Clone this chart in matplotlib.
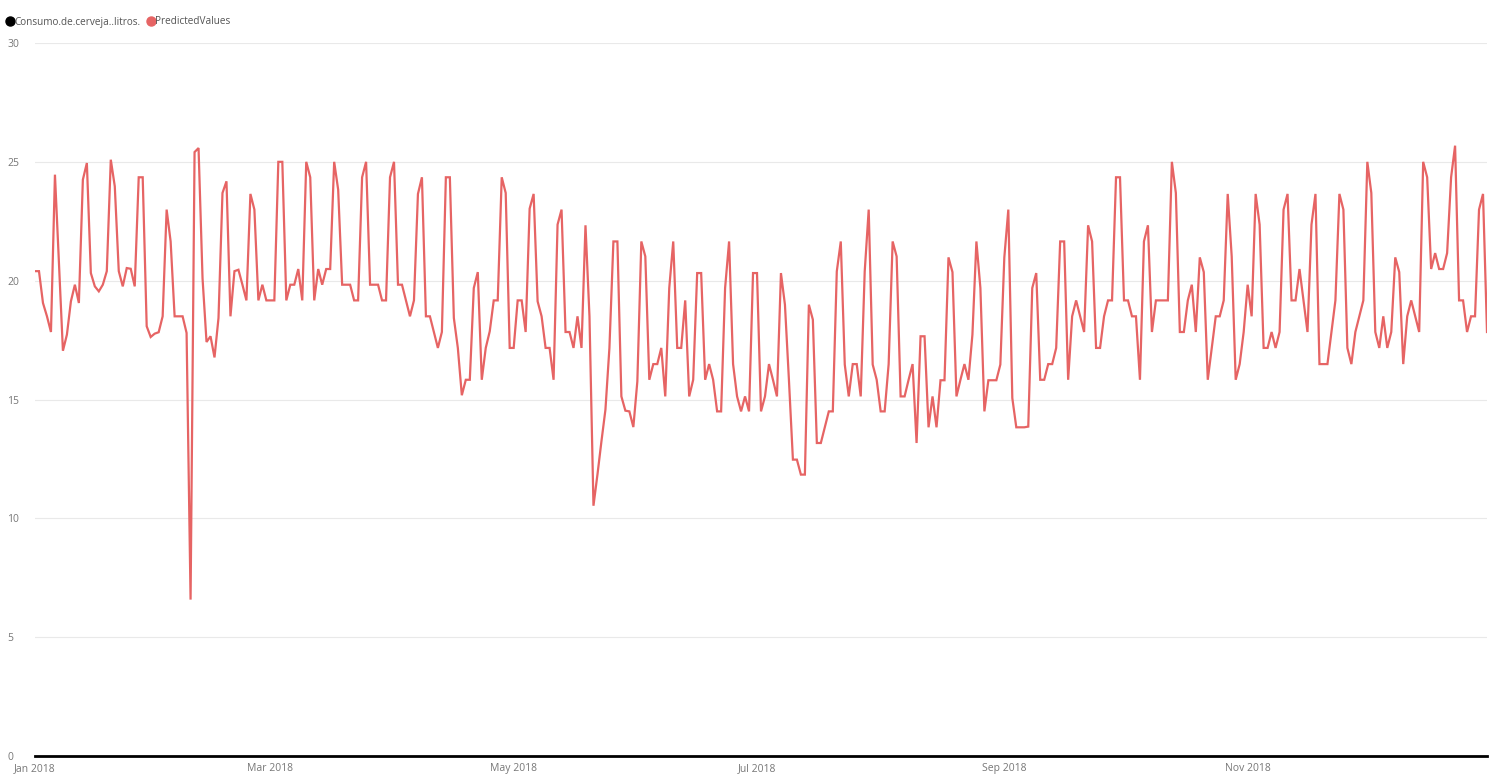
import matplotlib
matplotlib.use("Agg")
import matplotlib.pyplot as plt
import matplotlib.dates as mdates
from matplotlib.lines import Line2D
import pandas as pd

# daily predicted beer consumption, 2018, read month by month
jan = [20.4, 20.4, 19.06, 18.5, 17.84, 24.46, 20.8, 17.05, 17.73, 19.13, 19.83, 19.06, 24.25, 24.95, 20.32, 19.76,
       19.55, 19.83, 20.4, 25.09, 23.97, 20.4, 19.76, 20.53, 20.5, 19.76, 24.35, 24.35, 18.08, 17.63, 17.77]
feb = [17.83, 18.5, 22.99, 21.65, 18.5, 18.5, 18.5, 17.8, 6.58, 25.41, 25.58, 20.1, 17.42, 17.66, 16.77, 18.43,
       23.69, 24.18, 18.5, 20.4, 20.46, 19.83, 19.17, 23.65, 22.99, 19.17, 19.83, 19.17]
mar = [19.17, 19.17, 25.0, 25.0, 19.17, 19.83, 19.83, 20.49, 19.17, 25.0, 24.35, 19.17, 20.49, 19.83, 20.49, 20.49,
       25.0, 23.83, 19.83, 19.83, 19.83, 19.17, 19.17, 24.35, 25.0, 19.83, 19.83, 19.83, 19.17, 19.17, 24.35]
apr = [25.0, 19.83, 19.83, 19.17, 18.5, 19.17, 23.65, 24.35, 18.5, 18.5, 17.84, 17.17, 17.84, 24.35, 24.35, 18.43,
       17.17, 15.18, 15.83, 15.83, 19.69, 20.36, 15.83, 17.17, 17.87, 19.17, 19.17, 24.35, 23.69, 17.17]
may = [17.17, 19.17, 19.17, 17.84, 23.03, 23.65, 19.13, 18.5, 17.17, 17.17, 15.83, 22.36, 22.99, 17.84, 17.84, 17.17,
       18.5, 17.17, 22.33, 18.5, 10.53, 11.84, 13.24, 14.57, 17.17, 21.65, 21.65, 15.13, 14.53, 14.5, 13.84]
jun = [15.76, 21.65, 21.02, 15.83, 16.49, 16.49, 17.17, 15.13, 19.69, 21.65, 17.17, 17.17, 19.17, 15.13, 15.83, 20.32,
       20.32, 15.83, 16.49, 15.83, 14.5, 14.5, 19.69, 21.65, 16.49, 15.13, 14.5, 15.13, 14.5, 20.32]
jul = [20.32, 14.5, 15.13, 16.49, 15.83, 15.13, 20.32, 18.99, 15.83, 12.47, 12.47, 11.84, 11.84, 18.99, 18.36, 13.17,
       13.17, 13.84, 14.5, 14.5, 20.39, 21.65, 16.47, 15.13, 16.49, 16.49, 15.13, 20.39, 22.99, 16.47, 15.83]
aug = [14.5, 14.5, 16.49, 21.65, 21.02, 15.13, 15.13, 15.83, 16.49, 13.17, 17.66, 17.66, 13.83, 15.13, 13.83, 15.81,
       15.81, 20.98, 20.36, 15.13, 15.83, 16.49, 15.83, 17.73, 21.65, 19.69, 14.5, 15.81, 15.81, 15.81, 16.47]
sep = [20.98, 22.99, 15.06, 13.83, 13.83, 13.83, 13.86, 19.69, 20.32, 15.83, 15.83, 16.49, 16.49, 17.17, 21.65, 21.65,
       15.83, 18.5, 19.17, 18.5, 17.84, 22.33, 21.65, 17.17, 17.17, 18.5, 19.17, 19.17, 24.35, 24.35]
oct_ = [19.17, 19.17, 18.5, 18.5, 15.83, 21.65, 22.33, 17.84, 19.17, 19.17, 19.17, 19.17, 25.0, 23.69, 17.84, 17.84,
        19.17, 19.83, 17.84, 20.98, 20.36, 15.83, 17.17, 18.5, 18.5, 19.17, 23.65, 21.02, 15.83, 16.49, 17.84]
nov = [19.83, 18.5, 23.65, 22.36, 17.17, 17.17, 17.84, 17.17, 17.84, 22.99, 23.65, 19.17, 19.17, 20.49, 19.17, 17.84,
       22.36, 23.65, 16.49, 16.49, 16.49, 17.84, 19.17, 23.65, 22.99, 17.17, 16.49, 17.84, 18.5, 19.17]
dec = [25.0, 23.69, 17.84, 17.17, 18.5, 17.17, 17.84, 20.98, 20.36, 16.49, 18.5, 19.17, 18.5, 17.84, 25.0, 24.35,
       20.49, 21.16, 20.49, 20.49, 21.16, 24.35, 25.68, 19.17, 19.17, 17.84, 18.5, 18.5, 22.99, 23.65, 17.84]

predicted = jan + feb + mar + apr + may + jun + jul + aug + sep + oct_ + nov + dec
dates = pd.date_range("2018-01-01", periods=len(predicted), freq="D")

tick_dates = pd.to_datetime(["2018-01-01", "2018-03-01", "2018-05-01", "2018-07-01", "2018-09-01", "2018-11-01"])
tick_labels = ["Jan 2018", "Mar 2018", "May 2018", "Jul 2018", "Sep 2018", "Nov 2018"]
y_ticks = [0, 5, 10, 15, 20, 25, 30]
series_names = ["Consumo.de.cerveja..litros.", "PredictedValues"]

plt.rcParams["font.family"] = ["Open Sans", "DejaVu Sans"]
red = "#E66464"
grey_txt = "#777777"

fig = plt.figure(figsize=(15.02, 7.79), dpi=100)
ax = fig.add_axes([35 / 1502, 23 / 779, 1452 / 1502, 713 / 779])

ax.plot(dates, predicted, color=red, lw=1.6, solid_joinstyle="miter")

ax.set_xlim(dates[0], dates[-1])
ax.set_ylim(0, 30)

# grid
for y in y_ticks[1:]:
    ax.axhline(y, color="#e9e9e9", lw=0.8, zorder=0)
ax.axhline(0, color="black", lw=2, zorder=3, clip_on=False)

for s in ax.spines.values():
    s.set_visible(False)

ax.set_yticks(y_ticks)
ax.set_yticklabels([str(v) for v in y_ticks], color=grey_txt, fontsize=7.5)
for lbl in ax.get_yticklabels():
    lbl.set_horizontalalignment("left")
ax.tick_params(axis="y", length=0, pad=20)

ax.set_xticks(tick_dates)
ax.set_xticklabels(tick_labels, color=grey_txt, fontsize=7.5)
ax.tick_params(axis="x", length=0, pad=5)

# legend
handles = [Line2D([], [], marker="o", ls="", color="black", markersize=6.5),
           Line2D([], [], marker="o", ls="", color=red, markersize=6.5)]
leg = fig.legend(handles, series_names, loc="center left", bbox_to_anchor=(0.0, 1 - 22 / 779),
                 ncol=2, frameon=False, fontsize=7.2, handletextpad=-0.2, columnspacing=0.5,
                 handlelength=1.2, borderaxespad=0)
for t in leg.get_texts():
    t.set_color("#555555")

fig.savefig("out.png", dpi=100)
